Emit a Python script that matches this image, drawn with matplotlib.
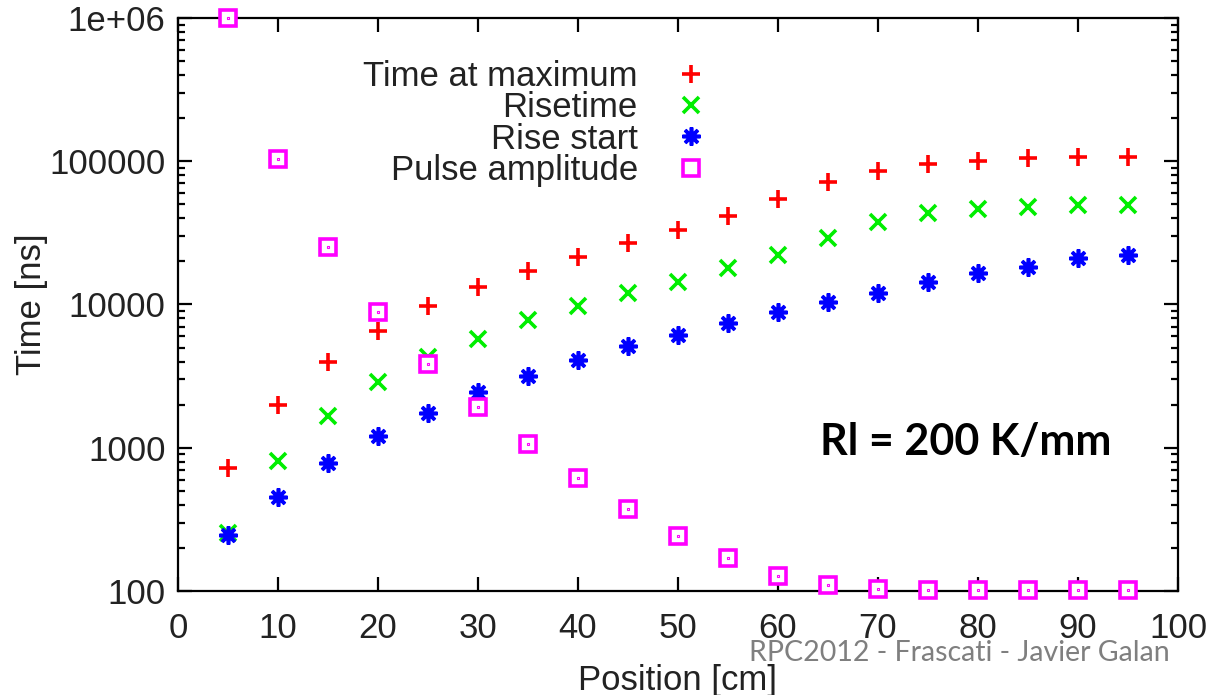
import matplotlib
matplotlib.use("Agg")
import matplotlib.pyplot as plt
from matplotlib.ticker import FixedLocator, LogLocator, NullFormatter, FuncFormatter

# positions along the strip [cm]
position = [5, 10, 15, 20, 25, 30, 35, 40, 45, 50,
            55, 60, 65, 70, 75, 80, 85, 90, 95]

# times [ns]
time_at_max = [720, 2000, 4000, 6500, 9700, 13300, 17200, 21400, 26800, 33000,
               41400, 54400, 71500, 85300, 95500, 101000, 105000, 107000, 107000]
risetime = [255, 810, 1670, 2870, 4300, 5750, 7800, 9750, 12000, 14300,
            17900, 22100, 29100, 37600, 43400, 46300, 47900, 49400, 49400]
rise_start = [246, 450, 785, 1210, 1740, 2440, 3180, 4090, 5120, 6110,
              7410, 8850, 10400, 12000, 14300, 16500, 18200, 21000, 22100]
pulse_amplitude = [1000000, 103000, 25000, 8800, 3840, 1910, 1070, 615, 373, 242,
                   169, 128, 110, 104, 101, 101, 101, 101, 101]

labels = ["Time at maximum", "Risetime", "Rise start", "Pulse amplitude"]

FONT = "Liberation Sans"
FS = 25
TXT = "#222222"

fig = plt.figure(figsize=(12.12, 6.95), dpi=100)
ax = fig.add_axes([178 / 1212, 1 - 591 / 695, 1000 / 1212, 573 / 695])

kw = dict(linestyle="none", clip_on=False, zorder=3)
ax.plot(position, time_at_max, marker="+", color="#ff0000", markersize=13,
        markeredgewidth=2.6, label=labels[0], **kw)
ax.plot(position, risetime, marker="x", color="#00ee00", markersize=11,
        markeredgewidth=2.6, label=labels[1], **kw)
ax.plot(position, rise_start, marker=(8, 2, 0), color="#0000ff", markersize=13,
        markeredgewidth=2.6, label=labels[2], **kw)
ax.plot(position, pulse_amplitude, marker="s", color="#ff00ff", markersize=11,
        markerfacecolor="white", markeredgewidth=2.6, label=labels[3], **kw)
# small centre dot inside each square
ax.plot(position, pulse_amplitude, marker="s", color="#ff00ff", markersize=1.6,
        markeredgewidth=0.8, markerfacecolor="white", **kw)

ax.set_xlim(0, 100)
ax.set_yscale("log")
ax.set_ylim(100, 1e6)

ax.xaxis.set_major_locator(FixedLocator(range(0, 101, 10)))
ax.yaxis.set_major_locator(FixedLocator([100, 1000, 10000, 100000, 1000000]))
ax.yaxis.set_minor_locator(LogLocator(base=10, subs=range(2, 10)))
ax.yaxis.set_minor_formatter(NullFormatter())
ax.yaxis.set_major_formatter(FuncFormatter(
    lambda v, p: "1e+06" if v >= 1e6 else f"{int(round(v))}"))

ax.tick_params(which="both", direction="in", top=True, right=True,
               width=1.6, color="black", labelsize=FS)
ax.tick_params(axis="x", pad=15)
ax.tick_params(axis="y", pad=9)
ax.tick_params(which="major", length=10)
ax.tick_params(which="minor", length=5)
for lab in ax.get_xticklabels() + ax.get_yticklabels():
    lab.set_fontfamily(FONT)
    lab.set_color(TXT)
for s in ax.spines.values():
    s.set_linewidth(1.6)

ax.set_xlabel("Position [cm]", fontsize=FS, fontfamily=FONT, color=TXT,
              labelpad=14)
ax.set_ylabel("Time [ns]", fontsize=FS, fontfamily=FONT, color=TXT,
              labelpad=1)

leg = ax.legend(loc="upper right", bbox_to_anchor=(0.548, 0.957), frameon=False,
                markerfirst=False, handlelength=1.0, handletextpad=1.04,
                labelspacing=-0.05, borderpad=0,
                prop=dict(family=FONT, size=FS))
for t in leg.get_texts():
    t.set_color(TXT)

ax.text(0.788, 0.26, "Rl = 200 K/mm", transform=ax.transAxes, ha="center",
        va="center", fontsize=31, fontweight="bold", fontfamily="Lato",
        color="black")
fig.text(959 / 1212, 1 - 653 / 695, "RPC2012 - Frascati - Javier Galan",
         ha="center", va="center", fontsize=20.5, fontfamily="Lato",
         color="#7f7f7f")

fig.savefig("out.png", dpi=100)
